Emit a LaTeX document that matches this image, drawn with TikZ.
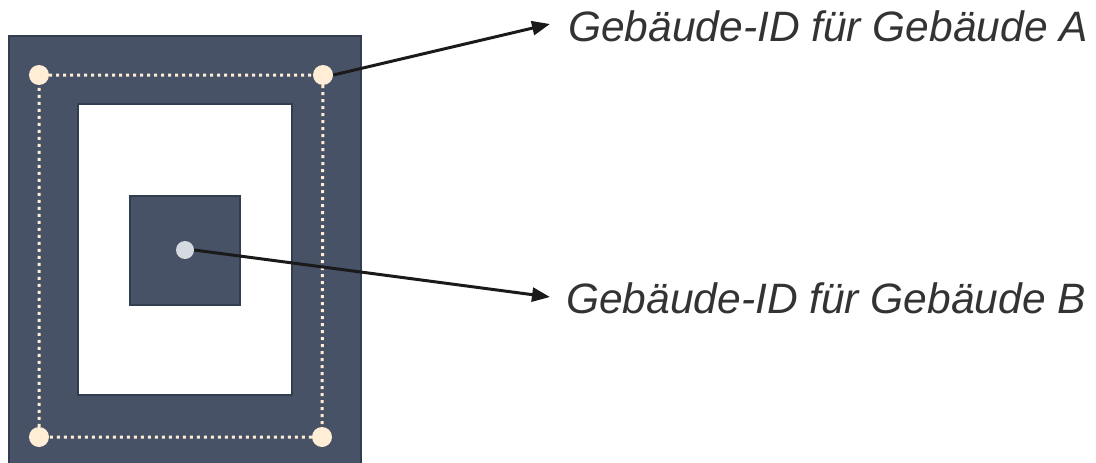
\documentclass[tikz,border=0pt]{standalone}
\usepackage{fontspec}
\setmainfont{Liberation Sans}
\usetikzlibrary{arrows.meta}
\definecolor{slate}{HTML}{475266}
\definecolor{slateedge}{HTML}{333D50}
\definecolor{cream}{HTML}{FFEDD5}
\definecolor{pale}{HTML}{D5D9E0}
\definecolor{ink}{HTML}{1A1A1A}
\definecolor{label}{HTML}{333333}
\tikzset{
  block/.style={fill=slate, draw=slateedge, line width=1.5pt},
  hole/.style={fill=white, draw=slateedge, line width=1.5pt},
  corner/.style={circle, fill=cream, inner sep=0pt, minimum size=20pt},
  centerpt/.style={circle, fill=pale, inner sep=0pt, minimum size=18pt},
  outline/.style={cream, line width=3pt, dash pattern=on 3pt off 4pt},
  pointer/.style={ink, line width=3pt, -{Triangle[length=18pt,width=14pt]}},
  caption/.style={anchor=base west, inner sep=0pt, text=label,
    font=\fontsize{42.5}{48}\selectfont\itshape}
}
\begin{document}
\begin{tikzpicture}[x=1pt,y=-1pt]
\useasboundingbox (0,0) rectangle (1096,463);
% building A: outer frame with its courtyard
\draw[block] (9,36) rectangle (361,470);
\draw[hole] (78,104) rectangle (292,395);
% building B inside the courtyard
\draw[block] (130,196) rectangle (240,305);
% corner points of building A and their dotted outline
\node[corner] (c1) at (39,75) {};
\node[corner] (c2) at (323,75) {};
\node[corner] (c3) at (322,437) {};
\node[corner] (c4) at (39,437) {};
\draw[outline] (c1) -- (c2) -- (c3) -- (c4) -- (c1);
\node[centerpt] (b) at (185,250) {};
% labels
\node[caption] (la) at (568,41) {Gebäude-ID für Gebäude A};
\node[caption] (lb) at (566,313) {Gebäude-ID für Gebäude B};
\coordinate (ta) at (550,24);
\coordinate (tb) at (550,297);
\draw[pointer] (c2.east) -- (ta);
\draw[pointer] (b.east) -- (tb);
\end{tikzpicture}
\end{document}
